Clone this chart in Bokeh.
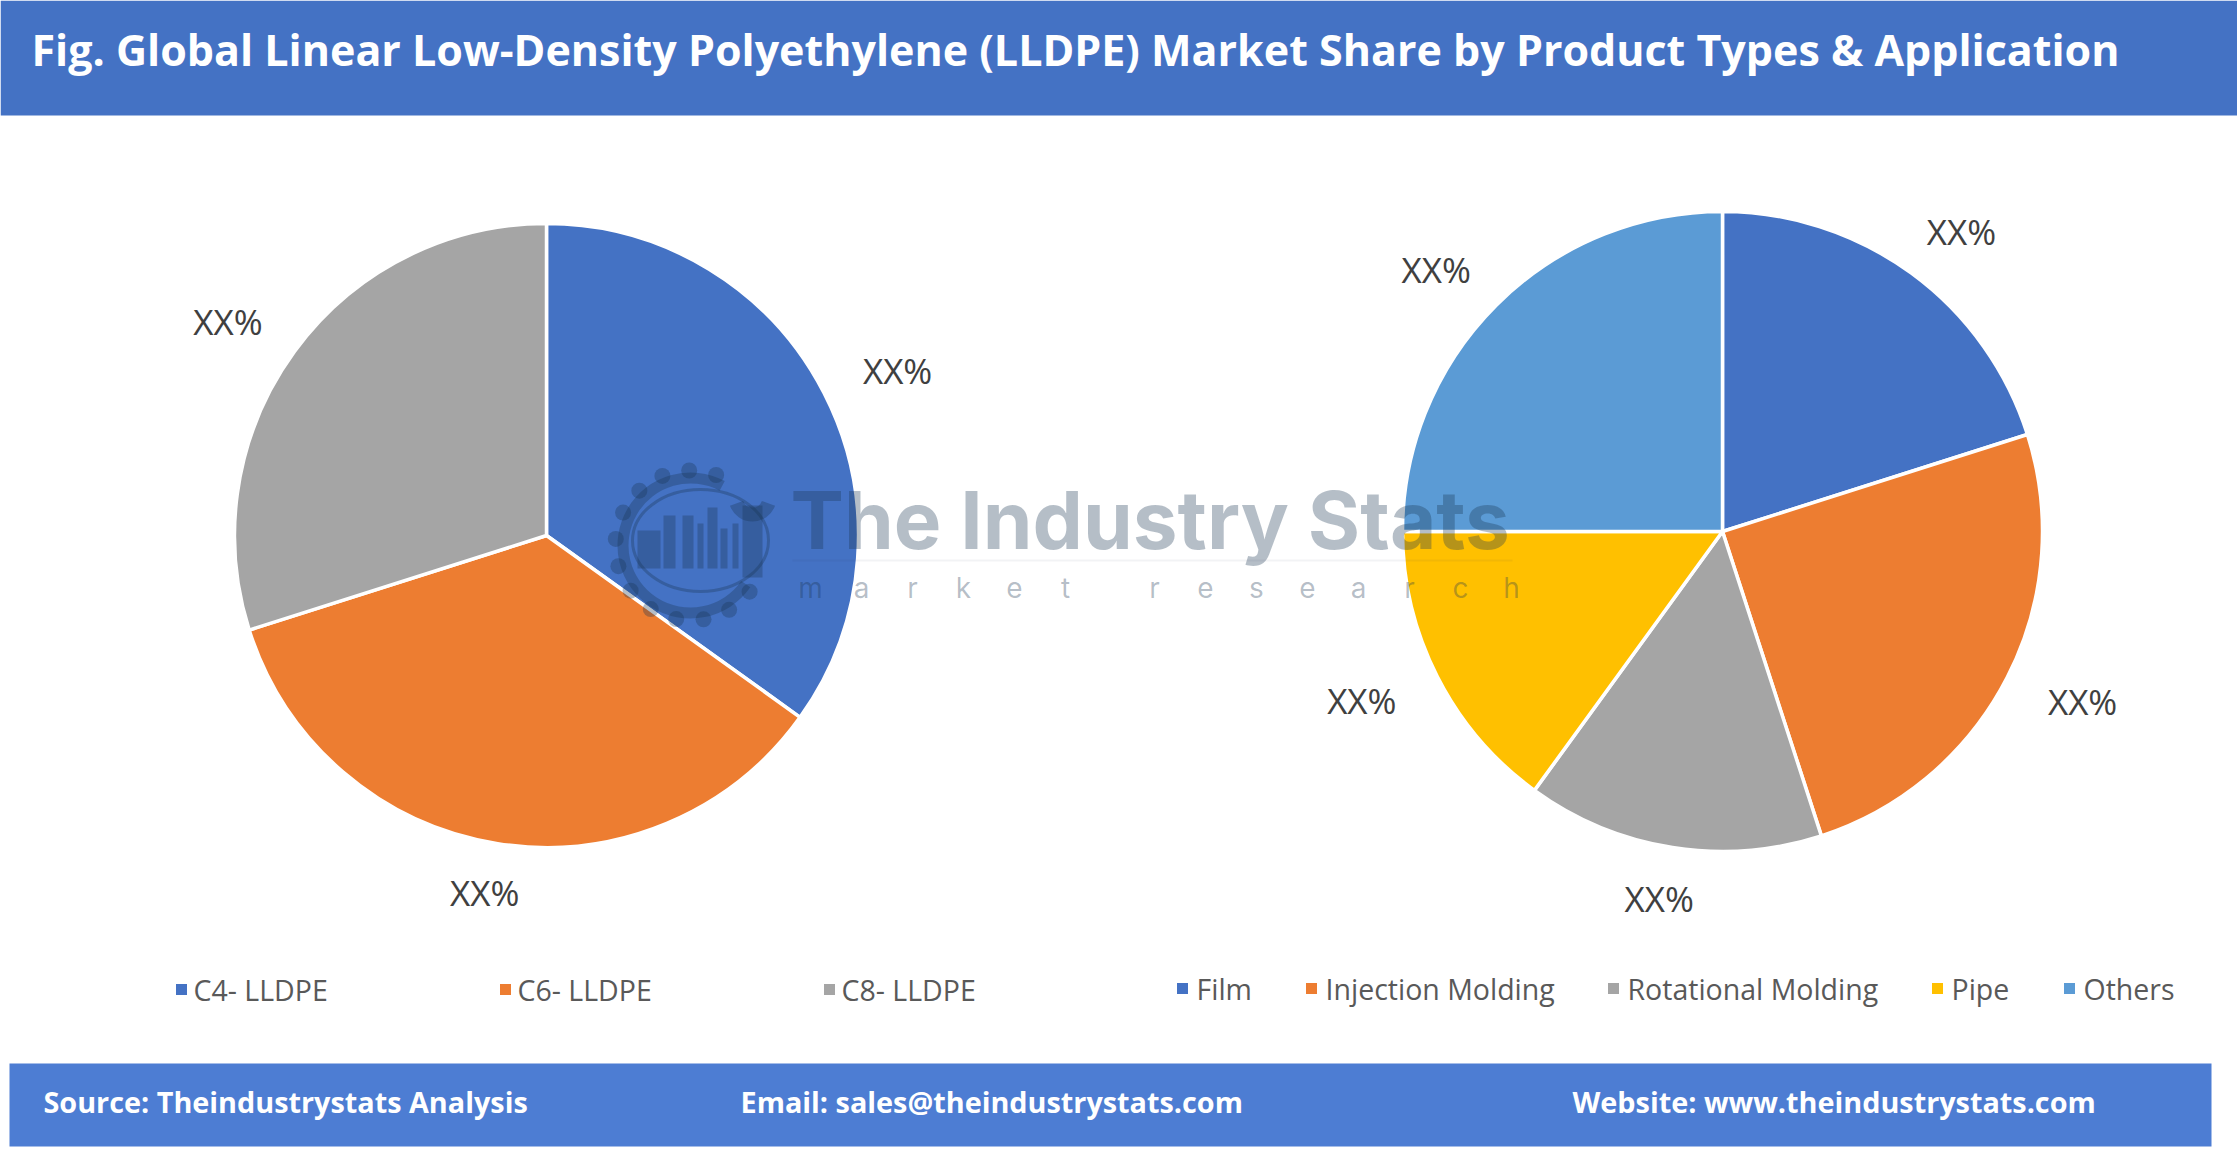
import numpy as np
from bokeh.plotting import figure
from bokeh.models import Range1d
from bokeh.core.properties import value
from bokeh.embed import file_html
from bokeh.resources import INLINE

# ---------------- data ----------------
title = "Fig. Global Linear Low-Density Polyethylene (LLDPE) Market Share by Product Types & Application"
left_categories = ["C4- LLDPE", "C6- LLDPE", "C8- LLDPE"]
left_values = [34.9, 35.2, 29.9]
left_colors = ["#4472C4", "#ED7D31", "#A5A5A5"]
left_labels = ["XX%", "XX%", "XX%"]

right_categories = ["Film", "Injection Molding", "Rotational Molding", "Pipe", "Others"]
right_values = [20.1, 24.9, 15.0, 15.0, 25.0]
right_colors = ["#4472C4", "#ED7D31", "#A5A5A5", "#FFC000", "#5B9BD5"]
right_labels = ["XX%", "XX%", "XX%", "XX%", "XX%"]

footer_texts = ["Source: Theindustrystats Analysis", "Email: sales@theindustrystats.com",
                "Website: www.theindustrystats.com"]

# ---------------- layout ----------------
W, H = 2237, 1149
def Y(s):
    return H - s

p = figure(width=W, height=H, x_range=Range1d(0, W), y_range=Range1d(0, H),
           output_backend="svg", toolbar_location=None, min_border=0)
p.axis.visible = False
p.grid.visible = False
p.outline_line_color = None
p.background_fill_color = "white"
p.border_fill_color = "white"

FONT = value("Open Sans")

# title band
p.quad(left=0, right=W, top=H, bottom=Y(115), fill_color="#4472C4", line_color=None)
p.text(x=[31], y=[Y(49)], text=[title], text_font=FONT, text_font_style="bold",
       text_font_size=value("43px"), text_color="white", text_baseline="middle", text_align="left")

# footer band
p.quad(left=9, right=2211, top=Y(1063), bottom=Y(1146), fill_color="#4D7DD3", line_color=None)
p.text(x=[43, 740, 1572], y=[Y(1101)] * 3, text=footer_texts, text_font=FONT,
       text_font_style="bold", text_font_size=value("28.8px"), text_color="white",
       text_baseline="middle", text_align="left")


def draw_pie(cx, cy, r, vals, colors, labels):
    vals = np.asarray(vals, dtype=float)
    frac = vals / vals.sum()
    cum = np.concatenate([[0.0], np.cumsum(frac)])
    start = np.pi / 2 - 2 * np.pi * cum[:-1]
    end = np.pi / 2 - 2 * np.pi * cum[1:]
    p.wedge(x=cx, y=cy, radius=r, start_angle=start, end_angle=end, direction="clock",
            fill_color=colors, line_color="white", line_width=3.5)
    mid = (start + end) / 2
    dx, dy = 1.265 * r, 1.16 * r
    p.text(x=cx + dx * np.cos(mid), y=cy + dy * np.sin(mid), text=labels, text_font=FONT,
           text_font_size=value("35px"), text_color="#404040", text_align="center",
           text_baseline="middle")

draw_pie(546, Y(535), 312, left_values, left_colors, left_labels)
draw_pie(1722, Y(531), 320, right_values, right_colors, right_labels)

# ---------------- watermark ----------------
WM = "#1a3550"
WA = 0.32
gx, gy = 690, Y(545)
p.annular_wedge(x=gx, y=gy, inner_radius=62, outer_radius=73, start_angle=np.deg2rad(62),
                end_angle=np.deg2rad(325), direction="anticlock", fill_color=WM, fill_alpha=WA,
                line_color=None)
teeth = np.deg2rad(np.arange(70, 325, 21))
p.circle(x=gx + 75 * np.cos(teeth), y=gy + 75 * np.sin(teeth), radius=8, fill_color=WM,
         fill_alpha=WA, line_color=None)
p.ellipse(x=700, y=Y(540), width=136, height=102, fill_color=None, line_color=WM,
          line_alpha=WA, line_width=3)
bl = [637, 663, 682, 697, 707, 720, 732]
br = [660, 675, 693, 703, 717, 727, 738]
bt = [530, 515, 515, 523, 507, 528, 523]
p.quad(left=bl, right=br, top=[Y(t) for t in bt], bottom=Y(568), fill_color=WM, fill_alpha=WA,
       line_color=None)
# wrench
p.quad(left=742, right=762, top=Y(505), bottom=Y(577), fill_color=WM, fill_alpha=WA, line_color=None)
p.annular_wedge(x=752, y=Y(497), inner_radius=10, outer_radius=24, start_angle=np.deg2rad(200),
                end_angle=np.deg2rad(340), direction="anticlock", fill_color=WM, fill_alpha=WA,
                line_color=None)
p.text(x=[790], y=[Y(519)], text=["The Industry Stats"], text_font=value("Inter"),
       text_font_style="bold", text_font_size=value("80px"), text_color=WM, text_alpha=WA,
       text_baseline="middle", text_align="left")
p.segment(x0=[792], y0=[Y(560)], x1=[1512], y1=[Y(560)], line_color=WM, line_alpha=0.06, line_width=2)
letters = list("market") + list("research")
lx = [810 + 51 * i for i in range(6)] + [1154 + 51 * i for i in range(8)]
p.text(x=lx, y=[Y(587)] * len(letters), text=letters, text_font=value("Inter"),
       text_font_size=value("28px"), text_color=WM, text_alpha=WA, text_baseline="middle",
       text_align="center")

# ---------------- legends ----------------
left_sq = [181, 505, 829]
p.rect(x=left_sq, y=[Y(989)] * 3, width=11, height=11, fill_color=left_colors, line_color=None)
p.text(x=[s + 12 for s in left_sq], y=[Y(989)] * 3, text=left_categories, text_font=FONT,
       text_font_size=value("28.5px"), text_color="#595959", text_baseline="middle", text_align="left")

right_sq = [1182, 1311, 1613, 1937, 2069]
p.rect(x=right_sq, y=[Y(988)] * 5, width=11, height=11, fill_color=right_colors, line_color=None)
p.text(x=[s + 14 for s in right_sq], y=[Y(988)] * 5, text=right_categories, text_font=FONT,
       text_font_size=value("28.5px"), text_color="#595959", text_baseline="middle", text_align="left")

open("out.html", "w").write(file_html(p, INLINE))
